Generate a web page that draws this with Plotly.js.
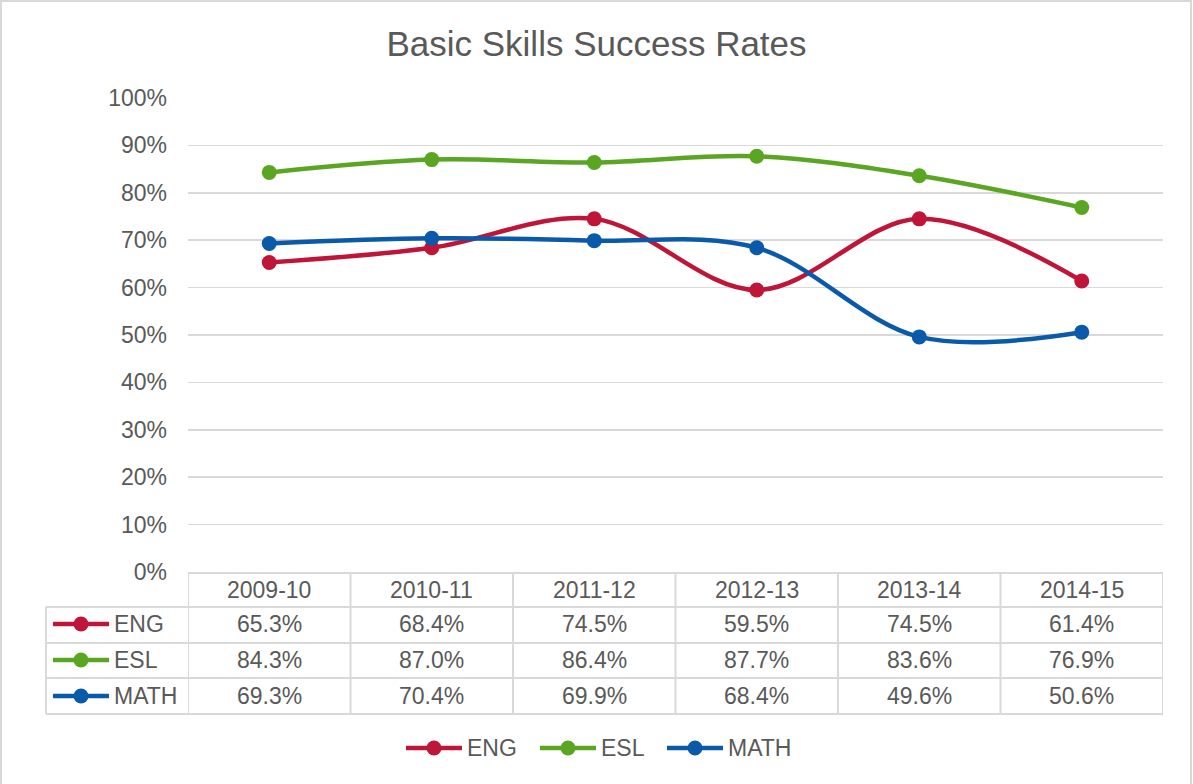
<!DOCTYPE html>
<html><head><meta charset="utf-8">
<script src="https://cdn.plot.ly/plotly-3.0.1.min.js"></script>
<style>html,body{margin:0;padding:0;background:#fff}#chart{width:1193px;height:784px}</style>
</head><body><div id="chart"></div><script>
const categories = ['2009-10','2010-11','2011-12','2012-13','2013-14','2014-15'];
const seriesNames = ['ENG','ESL','MATH'];
const engValues = [65.3, 68.4, 74.5, 59.5, 74.5, 61.4];
const eslValues = [84.3, 87.0, 86.4, 87.7, 83.6, 76.9];
const mathValues = [69.3, 70.4, 69.9, 68.4, 49.6, 50.6];
const yTickValues = [0,10,20,30,40,50,60,70,80,90,100];
const yTickLabels = ['0%','10%','20%','30%','40%','50%','60%','70%','80%','90%','100%'];
const seriesColors = ['#BE1538','#5AA622','#0B5AA9'];
const titleText = 'Basic Skills Success Rates';

const allValues = [engValues, eslValues, mathValues];
const W = 1193, H = 784;
const L = 188, R = 1163, T = 98, B = 572;
const FONT = '"Liberation Sans", Arial, sans-serif';
const TXT = '#595959';
const GRID = '#D9D9D9';
const px = p => (p - L) / (R - L);
const py = p => (B - p) / (B - T);
const xIdx = categories.map((c, i) => i);

const traces = seriesNames.map((n, k) => ({
  type: 'scatter', mode: 'lines+markers', name: n,
  x: xIdx, y: allValues[k],
  line: {color: seriesColors[k], width: 4.5, shape: 'spline', smoothing: 1},
  marker: {color: seriesColors[k], size: 15},
  showlegend: false, cliponaxis: false, hoverinfo: 'skip'
}));

const shapes = [];
const annotations = [];
const lineStyle = {color: GRID, width: 2};
// outer border
shapes.push({type:'rect', xref:'paper', yref:'paper', x0:px(1), x1:px(1191), y0:py(1), y1:py(790), line:{color:GRID, width:2}, layer:'below'});
// table
const rowTop = 573, rowLines = [607, 643, 678, 714];
const tblLeft = 46;
shapes.push({type:'line', xref:'x', yref:'paper', x0:-0.5, x1:categories.length-0.5, y0:py(rowTop), y1:py(rowTop), line:lineStyle});
rowLines.forEach(y => shapes.push({type:'line', xref:'paper', yref:'paper', x0:px(tblLeft), x1:1, y0:py(y), y1:py(y), line:lineStyle}));
shapes.push({type:'line', xref:'paper', yref:'paper', x0:px(tblLeft), x1:px(tblLeft), y0:py(rowLines[0]), y1:py(rowLines[3]), line:lineStyle});
for (let i = 0; i <= categories.length; i++) {
  shapes.push({type:'line', xref:'x', yref:'paper', x0:i-0.5, x1:i-0.5, y0:py(rowTop), y1:py(rowLines[3]), line:lineStyle});
}
// header
categories.forEach((c, i) => annotations.push({xref:'x', yref:'paper', x:i, y:py(590), text:c, showarrow:false, xanchor:'center', yanchor:'middle', font:{family:FONT, size:23, color:TXT}}));
const rowCenters = [624, 660, 696];
function legendKey(x0, yc, k) {
  shapes.push({type:'line', xref:'paper', yref:'paper', x0:px(x0), x1:px(x0+56), y0:py(yc), y1:py(yc), line:{color:seriesColors[k], width:4.5}});
  shapes.push({type:'circle', xref:'paper', yref:'paper', xsizemode:'pixel', ysizemode:'pixel', xanchor:px(x0+28), yanchor:py(yc), x0:-7.5, x1:7.5, y0:-7.5, y1:7.5, fillcolor:seriesColors[k], line:{width:0}});
  annotations.push({xref:'paper', yref:'paper', x:px(x0+59), y:py(yc), text:seriesNames[k], showarrow:false, xanchor:'left', yanchor:'middle', font:{family:FONT, size:23, color:TXT}});
}
seriesNames.forEach((n, k) => {
  legendKey(53, rowCenters[k], k);
  allValues[k].forEach((v, i) => annotations.push({xref:'x', yref:'paper', x:i, y:py(rowCenters[k]), text:v.toFixed(1)+'%', showarrow:false, xanchor:'center', yanchor:'middle', font:{family:FONT, size:23, color:TXT}}));
});
// bottom legend
const legendStarts = [406, 540, 667];
seriesNames.forEach((n, k) => legendKey(legendStarts[k], 748, k));

const layout = {
  width: W, height: H,
  margin: {l: L, r: W - R, t: T, b: H - B, autoexpand: false},
  paper_bgcolor: '#fff', plot_bgcolor: '#fff',
  title: {text: titleText, x: 0.5, xref: 'container', xanchor: 'center', y: 1 - 44/H, yref: 'container', yanchor: 'middle', font: {family: FONT, size: 35, color: TXT}},
  xaxis: {range: [-0.5, categories.length - 0.5], showgrid: false, zeroline: false, showline: false, showticklabels: false, ticks: '', fixedrange: true},
  yaxis: {range: [0, 100], tickvals: yTickValues, ticktext: yTickLabels, showgrid: true, gridcolor: GRID, gridwidth: 1.5, zeroline: false, showline: false, ticks: '', ticklabelstandoff: 20, tickfont: {family: FONT, size: 23, color: TXT}, fixedrange: true},
  showlegend: false,
  shapes: shapes, annotations: annotations
};
Plotly.newPlot('chart', traces, layout, {displayModeBar: false, staticPlot: true});
</script></body></html>
